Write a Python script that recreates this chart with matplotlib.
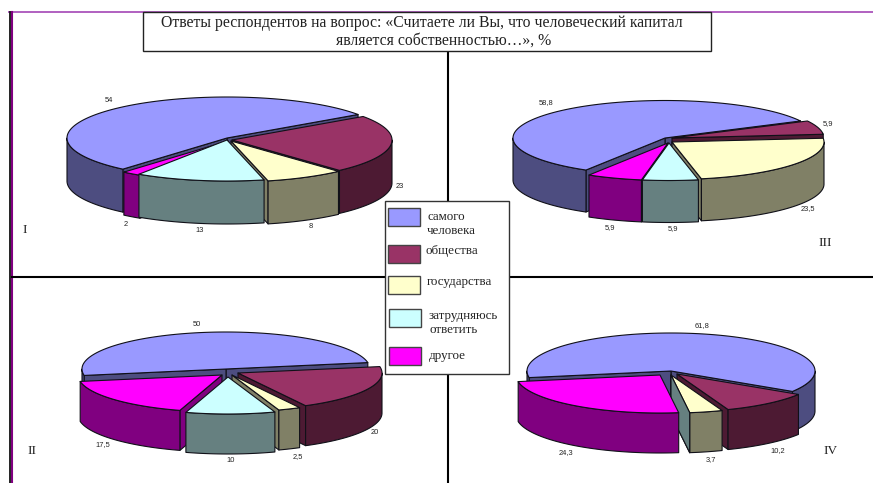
import numpy as np
import matplotlib
matplotlib.use("Agg")
import matplotlib.pyplot as plt
from matplotlib.patches import Polygon, Rectangle

title_line1 = "Ответы респондентов на вопрос: «Считаете ли Вы, что человеческий капитал"
title_line2 = "является собственностью…», %"

categories = ["самого\nчеловека", "общества", "государства", "затрудняюсь\nответить", "другое"]
pie1_values = [54, 23, 8, 13, 2]
pie2_values = [50, 20, 2.5, 10, 17.5]
pie3_values = [58.8, 5.9, 23.5, 5.9, 5.9]
pie4_values = [61.8, 10.2, 3.7, 0, 24.3]

top_colors = ["#9999FF", "#993366", "#FFFFCC", "#CCFFFF", "#FF00FF"]
side_colors = ["#4D4D80", "#4D1A33", "#808066", "#668080", "#800080"]

# slices run counter clockwise in this order on all four pies
slice_order = [0, 4, 3, 2, 1]

pies = [
    dict(values=pie1_values, name="I", name_xy=(25, 230), center=(229, 139), rx=160, ry=41, depth=43, start=35,
         offsets=[(-2, -1), (3, 1), (2, 2), (-2, 1), (-1, 2)], draw=[0, 1, 4, 2, 3],
         label_xy=[(109, 100), (400, 187), (311, 226), (200, 231), (126, 224)]),
    dict(values=pie2_values, name="II", name_xy=(32, 451), center=(228, 372), rx=144, ry=37, depth=40, start=10,
         offsets=[(-2, -3), (10, 1), (4, 3), (0, 5), (-6, 3)], draw=[0, 1, 4, 2, 3],
         label_xy=[(197, 325), (375, 433), (298, 457), (231, 460), (103, 445)]),
    dict(values=pie3_values, name="III", name_xy=(825, 243), center=(668, 140), rx=152, ry=37.5, depth=42, start=27,
         offsets=[(-3, -2), (4, -2), (4, 2), (1, 3), (0, 3)], draw=[0, 1, 2, 4, 3],
         label_xy=[(546, 103), (828, 124), (808, 209), (673, 229), (610, 228)]),
    dict(values=pie4_values, name="IV", name_xy=(831, 451), center=(670, 373), rx=144, ry=38, depth=40, start=-32.5,
         offsets=[(1, -2), (7, 1), (1, 2), (1, 2), (-10, 2)], draw=[0, 1, 2, 3, 4],
         label_xy=[(702, 326), (778, 451), (711, 460), None, (566, 453)]),
]

# legend swatch tops and text anchors, same order as categories
swatch_xy = [(388, 208), (388, 245), (388, 276), (389, 309), (389, 347)]
legend_text_xy = [(427, 224), (425, 251), (427, 282), (429, 323), (429, 356)]

SERIF = "Liberation Serif"
SANS = "Liberation Sans"


def arc(cx, cy, rx, ry, a1, a2):
    t = np.radians(np.linspace(a1, a2, max(int(abs(a2 - a1)) + 2, 2)))
    return np.column_stack([cx + rx * np.cos(t), cy - ry * np.sin(t)])


def poly(ax, pts, color):
    ax.add_patch(Polygon(pts, closed=True, facecolor=color, edgecolor="#101018", lw=0.8, joinstyle="round"))


def draw_wall(ax, cx, cy, rx, ry, depth, a, color):
    rim = arc(cx, cy, rx, ry, a, a)[0]
    poly(ax, [(cx, cy), rim, rim + (0, depth), (cx, cy + depth)], color)


def draw_slice(ax, cx, cy, rx, ry, depth, a1, a2, i):
    # radial walls first, only the ones facing the viewer
    if np.cos(np.radians(a1)) > 0:
        draw_wall(ax, cx, cy, rx, ry, depth, a1, side_colors[i])
    if np.cos(np.radians(a2)) < 0:
        draw_wall(ax, cx, cy, rx, ry, depth, a2, side_colors[i])
    if a2 <= a1:
        return
    # outer wall, front half of the ellipse only
    for lo, hi in [(-180, 0), (180, 360), (540, 720)]:
        b1, b2 = max(a1, lo), min(a2, hi)
        if b2 > b1:
            edge = arc(cx, cy, rx, ry, b1, b2)
            poly(ax, np.vstack([edge, edge[::-1] + (0, depth)]), side_colors[i])
    poly(ax, np.vstack([[(cx, cy)], arc(cx, cy, rx, ry, a1, a2)]), top_colors[i])


def draw_pie(ax, p):
    angles = {}
    a = p["start"]
    for i in slice_order:
        angles[i] = (a, a + p["values"][i] * 3.6)
        a = angles[i][1]
    for i in p["draw"]:
        cx = p["center"][0] + p["offsets"][i][0]
        cy = p["center"][1] + p["offsets"][i][1]
        draw_slice(ax, cx, cy, p["rx"], p["ry"], p["depth"], angles[i][0], angles[i][1], i)
    for v, xy in zip(p["values"], p["label_xy"]):
        if xy is not None:
            ax.text(xy[0], xy[1], str(v).replace(".", ","), family=SANS, fontsize=5.4,
                    ha="center", va="center", color="#222222")
    ax.text(p["name_xy"][0], p["name_xy"][1], p["name"], family=SERIF, fontsize=9.5,
            ha="center", va="center", color="#222222")


fig = plt.figure(figsize=(8.73, 4.83), dpi=100)
ax = fig.add_axes([0, 0, 1, 1])
ax.set_xlim(0, 873)
ax.set_ylim(483, 0)
ax.axis("off")

# page frame
ax.plot([9, 873], [12, 12], color="#B060C0", lw=1.4)
ax.plot([10, 10], [12, 483], color="#111111", lw=1.3)
ax.plot([12, 12], [12, 483], color="#800080", lw=1.5)

# quadrant cross
ax.plot([12, 873], [276.5, 276.5], color="black", lw=1.5)
ax.plot([447.5, 447.5], [51, 483], color="black", lw=1.5)

for p in pies:
    draw_pie(ax, p)

# title box
ax.add_patch(Rectangle((143, 12), 568, 39, facecolor="white", edgecolor="#222222", lw=1.0, zorder=5))
ax.text(422, 23, title_line1, family=SERIF, fontsize=11.3, ha="center", va="center", color="#222222", zorder=6)
ax.text(444, 41, title_line2, family=SERIF, fontsize=11.3, ha="center", va="center", color="#222222", zorder=6)

# legend
ax.add_patch(Rectangle((385, 201), 124, 173, facecolor="white", edgecolor="#333333", lw=1.0, zorder=5))
for i, name in enumerate(categories):
    x, y = swatch_xy[i]
    ax.add_patch(Rectangle((x, y), 32, 18, facecolor=top_colors[i], edgecolor="#444444", lw=1.0, zorder=6))
    ax.text(legend_text_xy[i][0], legend_text_xy[i][1], name, family=SERIF, fontsize=9.4, linespacing=1.3,
            ha="left", va="center", color="#222222", zorder=6)

fig.savefig("out.png", dpi=100, facecolor="white")
